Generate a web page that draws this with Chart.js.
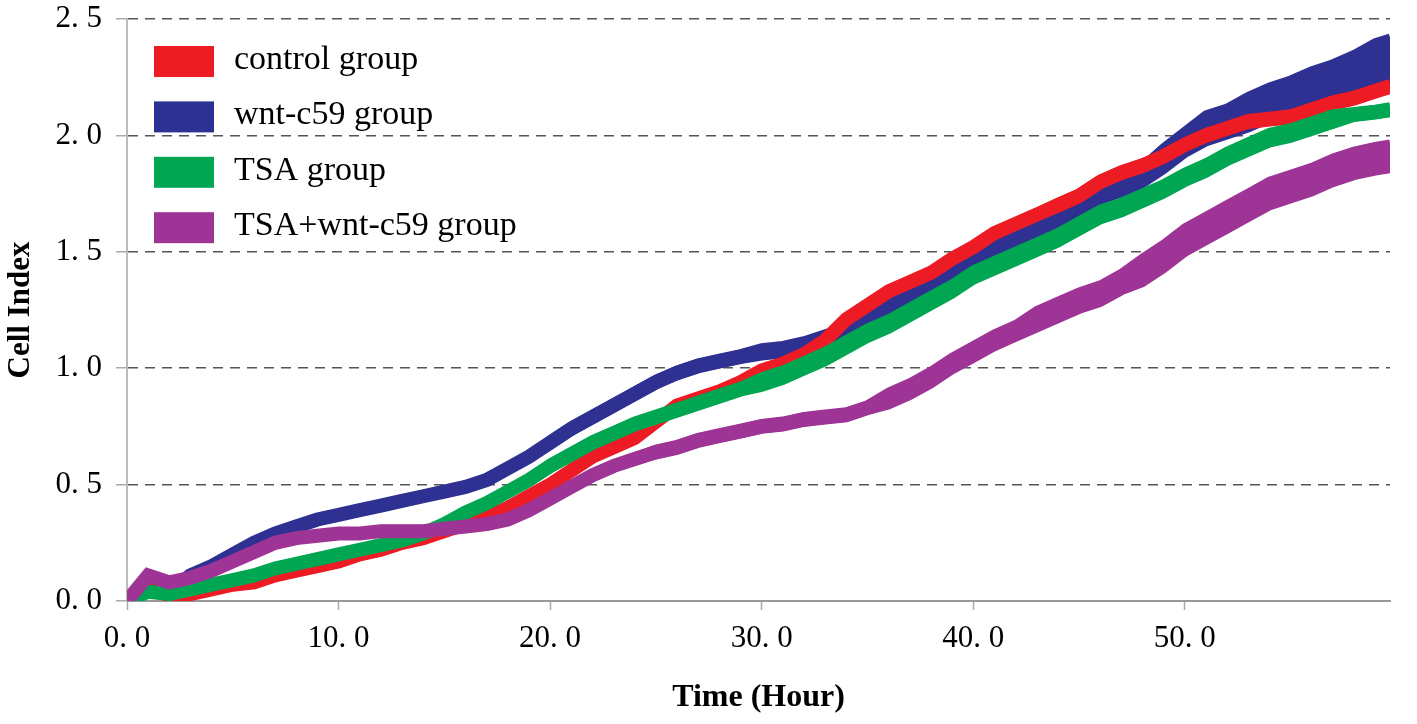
<!DOCTYPE html>
<html>
<head>
<meta charset="utf-8">
<title>Cell Index</title>
<script src="https://cdn.jsdelivr.net/npm/chart.js@4.4.1/dist/chart.umd.min.js"></script>
<style>
  html, body { margin: 0; padding: 0; background: #fff; }
  canvas { display: block; }
</style>
</head>
<body>
<canvas id="cell-chart" width="1417" height="724"></canvas>
<script>
// sampling times (hours)
const hours = [0, 1, 2, 3, 4, 5, 6, 7, 8, 9,
  10, 11, 12, 13, 14, 15, 16, 17, 18, 19,
  20, 21, 22, 23, 24, 25, 26, 27, 28, 29,
  30, 31, 32, 33, 34, 35, 36, 37, 38, 39,
  40, 41, 42, 43, 44, 45, 46, 47, 48, 49,
  50, 51, 52, 53, 54, 55, 56, 57, 58, 59, 59.7];

// mean cell index per group
const controlGroup = [0, 0.07, 0.02, 0.03, 0.05, 0.07, 0.08, 0.11, 0.13, 0.15,
  0.17, 0.20, 0.22, 0.25, 0.27, 0.30, 0.33, 0.36, 0.40, 0.45,
  0.50, 0.56, 0.62, 0.66, 0.70, 0.77, 0.84, 0.87, 0.90, 0.94,
  0.99, 1.02, 1.06, 1.12, 1.21, 1.27, 1.33, 1.37, 1.41, 1.47,
  1.52, 1.58, 1.62, 1.66, 1.70, 1.74, 1.80, 1.84, 1.87, 1.91,
  1.96, 2.00, 2.03, 2.06, 2.07, 2.08, 2.11, 2.14, 2.16, 2.19, 2.21];
const wntGroup = [0, 0.05, 0.04, 0.11, 0.15, 0.20, 0.25, 0.29, 0.32, 0.35,
  0.37, 0.39, 0.41, 0.43, 0.45, 0.47, 0.49, 0.52, 0.57, 0.62,
  0.68, 0.74, 0.79, 0.84, 0.89, 0.94, 0.98, 1.01, 1.03, 1.05,
  1.07, 1.08, 1.10, 1.13, 1.16, 1.21, 1.27, 1.31, 1.36, 1.41,
  1.46, 1.51, 1.56, 1.60, 1.65, 1.70, 1.75, 1.79, 1.83, 1.90,
  1.97, 2.03, 2.06, 2.10, 2.14, 2.17, 2.20, 2.23, 2.26, 2.30, 2.32];
const tsaGroup = [0, 0.04, 0.03, 0.05, 0.07, 0.09, 0.11, 0.14, 0.16, 0.18,
  0.20, 0.22, 0.24, 0.26, 0.29, 0.33, 0.38, 0.42, 0.47, 0.52,
  0.58, 0.63, 0.68, 0.72, 0.76, 0.79, 0.82, 0.85, 0.88, 0.91,
  0.94, 0.97, 1.01, 1.05, 1.10, 1.15, 1.19, 1.24, 1.29, 1.34,
  1.40, 1.44, 1.48, 1.52, 1.56, 1.61, 1.66, 1.69, 1.73, 1.77,
  1.82, 1.86, 1.91, 1.95, 1.99, 2.01, 2.04, 2.07, 2.09, 2.10, 2.11];
const comboGroup = [0, 0.11, 0.08, 0.10, 0.13, 0.17, 0.21, 0.25, 0.27, 0.28,
  0.29, 0.29, 0.30, 0.30, 0.30, 0.31, 0.32, 0.33, 0.35, 0.39,
  0.44, 0.49, 0.54, 0.58, 0.61, 0.64, 0.66, 0.69, 0.71, 0.73,
  0.75, 0.76, 0.78, 0.79, 0.80, 0.83, 0.87, 0.91, 0.96, 1.02,
  1.07, 1.12, 1.16, 1.21, 1.25, 1.29, 1.32, 1.37, 1.42, 1.48,
  1.55, 1.60, 1.65, 1.70, 1.75, 1.78, 1.81, 1.85, 1.88, 1.90, 1.91];

// error bar half widths
const controlErr = [0, 0.01, 0.01, 0.01, 0.01, 0.01, 0.01, 0.01, 0.01, 0.01,
  0.01, 0.01, 0.01, 0.01, 0.01, 0.01, 0.01, 0.01, 0.01, 0.01,
  0.01, 0.01, 0.01, 0.01, 0.01, 0.01, 0.01, 0.01, 0.01, 0.01,
  0.01, 0.01, 0.01, 0.01, 0.01, 0.012, 0.012, 0.012, 0.012, 0.012,
  0.012, 0.012, 0.012, 0.012, 0.015, 0.015, 0.015, 0.015, 0.015, 0.015,
  0.015, 0.015, 0.015, 0.015, 0.015, 0.015, 0.015, 0.015, 0.015, 0.015, 0.015];
const wntErr = [0, 0.01, 0.01, 0.01, 0.01, 0.01, 0.01, 0.01, 0.01, 0.01,
  0.01, 0.01, 0.01, 0.01, 0.01, 0.01, 0.01, 0.01, 0.01, 0.01,
  0.015, 0.015, 0.015, 0.015, 0.015, 0.015, 0.015, 0.015, 0.015, 0.015,
  0.02, 0.02, 0.02, 0.02, 0.02, 0.02, 0.02, 0.02, 0.02, 0.02,
  0.03, 0.03, 0.03, 0.03, 0.03, 0.03, 0.03, 0.04, 0.04, 0.05,
  0.05, 0.06, 0.06, 0.07, 0.07, 0.07, 0.08, 0.08, 0.09, 0.10, 0.10];
const tsaErr = [0, 0.01, 0.01, 0.01, 0.01, 0.01, 0.01, 0.01, 0.01, 0.01,
  0.01, 0.01, 0.01, 0.01, 0.01, 0.01, 0.01, 0.01, 0.01, 0.01,
  0.015, 0.015, 0.015, 0.015, 0.015, 0.015, 0.015, 0.015, 0.015, 0.015,
  0.025, 0.025, 0.025, 0.025, 0.025, 0.025, 0.025, 0.025, 0.025, 0.025,
  0.025, 0.025, 0.025, 0.025, 0.025, 0.025, 0.025, 0.025, 0.025, 0.025,
  0.025, 0.025, 0.025, 0.025, 0.025, 0.025, 0.025, 0.025, 0.015, 0.015, 0.015];
const comboErr = [0, 0.01, 0.01, 0.01, 0.01, 0.01, 0.01, 0.01, 0.01, 0.01,
  0.01, 0.01, 0.01, 0.01, 0.01, 0.01, 0.01, 0.01, 0.01, 0.01,
  0.01, 0.01, 0.01, 0.01, 0.01, 0.015, 0.015, 0.015, 0.015, 0.015,
  0.015, 0.015, 0.015, 0.015, 0.015, 0.015, 0.03, 0.03, 0.03, 0.03,
  0.03, 0.03, 0.03, 0.04, 0.04, 0.04, 0.04, 0.04, 0.055, 0.055,
  0.055, 0.055, 0.055, 0.055, 0.055, 0.055, 0.055, 0.055, 0.055, 0.055, 0.055];

const seriesNames = ['control group', 'wnt-c59 group', 'TSA group', 'TSA+wnt-c59 group'];
const seriesColors = ['rgb(237,28,36)', 'rgb(46,49,146)', 'rgb(0,166,81)', 'rgb(158,52,150)'];
const seriesValues = [controlGroup, wntGroup, tsaGroup, comboGroup];
const seriesErrors = [controlErr, wntErr, tsaErr, comboErr];
// 0 = painted on top
const drawRank = [2, 3, 1, 0];

const xTicks = [0, 10, 20, 30, 40, 50];
const xTickLabels = ['0. 0', '10. 0', '20. 0', '30. 0', '40. 0', '50. 0'];
const yTicks = [0, 0.5, 1, 1.5, 2, 2.5];
const yTickLabels = ['0. 0', '0. 5', '1. 0', '1. 5', '2. 0', '2. 5'];

// each group: mean line plus a filled band for the error bars
const datasets = [];
seriesNames.forEach((name, s) => {
    const vals = seriesValues[s];
    const errs = seriesErrors[s];
    const color = seriesColors[s];
    const rank = drawRank[s] * 3;
    datasets.push({
        label: name,
        data: hours.map((h, i) => ({ x: h, y: vals[i] })),
        borderColor: color,
        backgroundColor: color,
        borderWidth: 14,
        pointRadius: 0,
        fill: false,
        order: rank
    });
    datasets.push({
        label: name + ' upper',
        data: hours.map((h, i) => ({ x: h, y: vals[i] + errs[i] })),
        borderColor: color,
        backgroundColor: color,
        borderWidth: 8,
        pointRadius: 0,
        fill: '+1',
        order: rank + 1
    });
    datasets.push({
        label: name + ' lower',
        data: hours.map((h, i) => ({ x: h, y: vals[i] - errs[i] })),
        borderColor: color,
        backgroundColor: color,
        borderWidth: 8,
        pointRadius: 0,
        fill: false,
        order: rank + 2
    });
});

// legend drawn inside the plot, top left
const insideLegend = {
    id: 'insideLegend',
    afterDraw(chart) {
        const { ctx, chartArea } = chart;
        ctx.save();
        ctx.font = '34px "Liberation Serif"';
        ctx.textBaseline = 'middle';
        seriesNames.forEach((name, i) => {
            const x = chartArea.left + 27;
            const y = chartArea.top + 27 + i * 55.4;
            ctx.fillStyle = seriesColors[i];
            ctx.fillRect(x, y, 60, 31);
            ctx.fillStyle = '#000';
            ctx.fillText(name, x + 80, y + 14);
        });
        ctx.restore();
    }
};

const serif = '"Liberation Serif", "Times New Roman", serif';

new Chart(document.getElementById('cell-chart').getContext('2d'), {
    type: 'line',
    data: { datasets: datasets },
    options: {
        responsive: false,
        animation: false,
        layout: { padding: { top: 19, right: 27, left: 0, bottom: 0 } },
        plugins: {
            legend: { display: false },
            tooltip: { enabled: false }
        },
        scales: {
            x: {
                type: 'linear',
                min: 0,
                max: 59.7,
                afterBuildTicks: scale => { scale.ticks = xTicks.map(v => ({ value: v })); },
                afterFit: scale => {
                    scale.height = 123;
                    scale.paddingRight = 0;
                },
                ticks: {
                    color: '#000',
                    font: { family: serif, size: 31 },
                    padding: 10,
                    maxRotation: 0,
                    callback: v => xTickLabels[xTicks.indexOf(v)]
                },
                grid: {
                    drawOnChartArea: false,
                    drawTicks: true,
                    tickLength: 9,
                    tickColor: '#aaa',
                    tickWidth: 1.5
                },
                border: { color: '#999', width: 2 },
                title: {
                    display: true,
                    text: 'Time (Hour)',
                    color: '#000',
                    font: { family: serif, size: 32, weight: 'bold' },
                    padding: { top: 4, bottom: 7 }
                }
            },
            y: {
                min: 0,
                max: 2.5,
                afterBuildTicks: scale => { scale.ticks = yTicks.map(v => ({ value: v })); },
                afterFit: scale => {
                    scale.width = 127;
                    scale.paddingTop = 0;
                    scale.paddingBottom = 0;
                },
                ticks: {
                    color: '#000',
                    font: { family: serif, size: 31 },
                    padding: 14,
                    callback: v => yTickLabels[yTicks.indexOf(v)]
                },
                grid: {
                    color: ctx => (ctx.tick && ctx.tick.value === 0) ? 'rgba(0,0,0,0)' : '#555',
                    lineWidth: 1.5,
                    tickLength: 11,
                    tickColor: '#aaa',
                    tickWidth: 1.5
                },
                border: { color: '#bbb', width: 2, dash: [10, 7] },
                title: {
                    display: true,
                    text: 'Cell Index',
                    color: '#000',
                    font: { family: serif, size: 31, weight: 'bold' },
                    padding: { top: 2, bottom: 2 }
                }
            }
        }
    },
    plugins: [insideLegend]
});
</script>
</body>
</html>
